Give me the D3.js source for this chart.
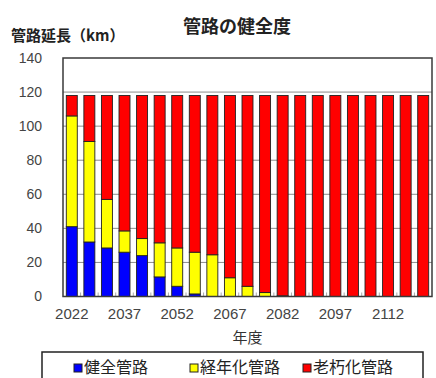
<!DOCTYPE html>
<html>
<head>
<meta charset="utf-8">
<script src="https://cdn.jsdelivr.net/npm/d3@7"></script>
<style>
  html, body { margin: 0; padding: 0; background: #fff; }
  svg { display: block; }
</style>
</head>
<body>
<svg id="chart" width="436" height="378"></svg>
<script>
const years = [2022, 2027, 2032, 2037, 2042, 2047, 2052, 2057, 2062, 2067, 2072,
               2077, 2082, 2087, 2092, 2097, 2102, 2107, 2112, 2117, 2122];
const healthy = [41, 32, 28.5, 26, 24, 11.5, 6, 1.5, 0, 0, 0,
                 0, 0, 0, 0, 0, 0, 0, 0, 0, 0];
const aging = [65, 59, 28.5, 12.5, 10, 20, 22.5, 24.5, 24.5, 11, 6,
               2.3, 0.4, 0, 0, 0, 0, 0, 0, 0, 0];
const deteriorated = [12, 27, 61, 79.5, 84, 86.5, 89.5, 92, 93.5, 107, 112,
                      115.7, 117.6, 118, 118, 118, 118, 118, 118, 118, 118];
const seriesNames = ["健全管路", "経年化管路", "老朽化管路"];
const seriesColors = ["#0000ff", "#ffff00", "#ff0000"];
const yTicks = [0, 20, 40, 60, 80, 100, 120, 140];
const xLabelYears = [2022, 2037, 2052, 2067, 2082, 2097, 2112];
const chartTitle = "管路の健全度";
const yTitle = "管路延長（km）";
const xTitle = "年度";

const svg = d3.select("#chart");
const L = 63, R = 432, T = 58, B = 296.5;
const jp = "'Noto Sans CJK JP', sans-serif";
const num = "'Liberation Sans', Arial, sans-serif";

const x = d3.scaleBand().domain(years).range([L, R]).paddingInner(0.375).paddingOuter(0.1875);
const y = d3.scaleLinear().domain([0, 140]).range([B, T]);

const table = years.map((yr, i) => ({year: yr, h: healthy[i], a: aging[i], d: deteriorated[i]}));
const stack = d3.stack().keys(["h", "a", "d"])(table);

// plot background
svg.append("rect").attr("x", L).attr("y", T).attr("width", R - L).attr("height", B - T)
  .attr("fill", "#fff");

// gridlines
svg.append("g").selectAll("line").data(yTicks.filter(v => v > 0 && v < 140)).join("line")
  .attr("x1", L).attr("x2", R).attr("y1", d => y(d)).attr("y2", d => y(d))
  .attr("stroke", "#8c8c8c").attr("stroke-width", 1);

// small category ticks along bottom
const step = x.step();
svg.append("g").selectAll("line").data(years.slice(1)).join("line")
  .attr("x1", d => x(d) - (step - x.bandwidth()) / 2)
  .attr("x2", d => x(d) - (step - x.bandwidth()) / 2)
  .attr("y1", B).attr("y2", B - 4)
  .attr("stroke", "#aaa").attr("stroke-width", 1);

// bars
svg.append("g").selectAll("g").data(stack).join("g")
  .attr("fill", (d, i) => seriesColors[i])
  .selectAll("rect").data(d => d.filter(s => s[1] - s[0] > 0)).join("rect")
  .attr("x", d => x(d.data.year))
  .attr("width", x.bandwidth())
  .attr("y", d => y(d[1]))
  .attr("height", d => y(d[0]) - y(d[1]))
  .attr("stroke", "#222").attr("stroke-width", 0.9);

// plot border
svg.append("rect").attr("x", L).attr("y", T).attr("width", R - L).attr("height", B - T)
  .attr("fill", "none").attr("stroke", "#3a3a3a").attr("stroke-width", 1.5);

// y axis labels
const yAxis = d3.axisLeft(y).tickValues(yTicks).tickSize(0).tickPadding(21);
const gy = svg.append("g").attr("transform", `translate(${L},0)`).call(yAxis);
gy.select(".domain").remove();
gy.selectAll("text").attr("font-family", num).attr("font-size", 14).attr("fill", "#444");

// x axis labels
const xAxis = d3.axisBottom(x).tickValues(xLabelYears).tickSize(0).tickPadding(12);
const gx = svg.append("g").attr("transform", `translate(0,${B})`).call(xAxis);
gx.select(".domain").remove();
gx.selectAll("text").attr("font-family", num).attr("font-size", 15).attr("fill", "#444");

// titles
svg.append("text").attr("x", 237).attr("y", 33).attr("text-anchor", "middle")
  .attr("font-family", jp).attr("font-size", 18).attr("font-weight", "bold").attr("fill", "#222")
  .text(chartTitle);
svg.append("text").attr("x", 11).attr("y", 41)
  .attr("font-family", jp).attr("font-size", 15).attr("font-weight", "bold").attr("fill", "#222")
  .text(yTitle);
svg.append("text").attr("x", (L + R) / 2).attr("y", 343).attr("text-anchor", "middle")
  .attr("font-family", jp).attr("font-size", 15).attr("fill", "#333")
  .text(xTitle);

// legend
svg.append("rect").attr("x", 42).attr("y", 352).attr("width", 381).attr("height", 40)
  .attr("fill", "#fff").attr("stroke", "#222").attr("stroke-width", 1.5);
const legendX = [74, 190, 303];
const lg = svg.append("g").selectAll("g").data(seriesNames).join("g")
  .attr("transform", (d, i) => `translate(${legendX[i]},367.5)`);
lg.append("rect").attr("x", 0).attr("y", -3.5).attr("width", 8).attr("height", 8)
  .attr("fill", (d, i) => seriesColors[i]).attr("stroke", "#222").attr("stroke-width", 1);
lg.append("text").attr("x", 10).attr("y", 0).attr("dy", "0.36em")
  .attr("font-family", jp).attr("font-size", 16).attr("fill", "#222")
  .text(d => d);
</script>
</body>
</html>
